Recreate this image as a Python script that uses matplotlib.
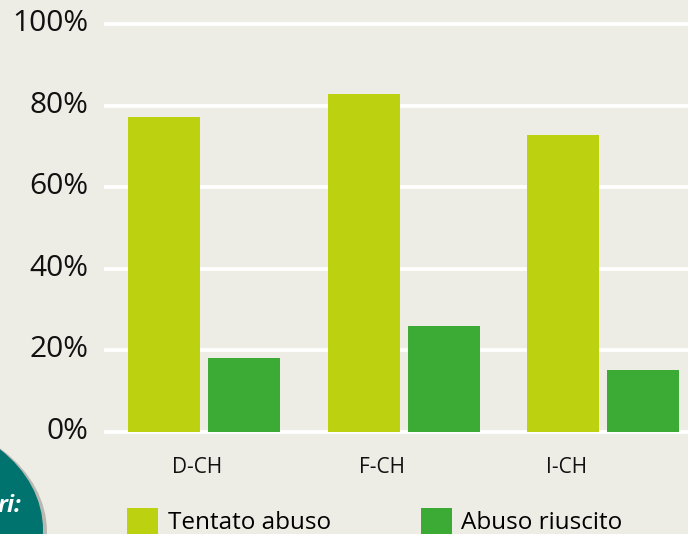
import matplotlib
matplotlib.use("Agg")
import matplotlib.pyplot as plt
import matplotlib.transforms as mtransforms
import numpy as np
from matplotlib.patches import Circle

# data (percent)
regions = ["D-CH", "F-CH", "I-CH"]
tentato = [77.2, 82.8, 72.8]
riuscito = [18.1, 26.0, 15.2]
yticks = [0, 20, 40, 60, 80, 100]

bg = "#edece5"
c_tent = "#bcd10f"
c_riu = "#3bab35"

plt.rcParams['font.family'] = ['Open Sans', 'DejaVu Sans']

fig = plt.figure(figsize=(6.88, 5.34), dpi=100)
fig.patch.set_facecolor(bg)

# axes placed in pixel terms: 0% at y=432, 100% at y=24, left edge x=104
W, H = 688.0, 534.0
pad = 3.0
ppu = 4.08
y0 = 432 + pad * ppu
y1 = 24 - pad * ppu
ax = fig.add_axes([104 / W, (H - y0) / H, 1 - 104 / W, (y0 - y1) / H])
ax.set_facecolor(bg)

x = np.arange(len(regions))
step = 199.5
w = 72 / step
off = 40 / step
ax.bar(x - off, tentato, w, color=c_tent, label="Tentato abuso", zorder=3)
ax.bar(x + off, riuscito, w, color=c_riu, label="Abuso riuscito", zorder=3)

ax.set_ylim(-pad, 100 + pad)
ax.set_xlim(-(204 - 104) / step, (688 - 204) / step)
ax.set_yticks(yticks)
ax.set_yticklabels(["%d%%" % v for v in yticks], fontsize=21.5, color="#111111")
ax.yaxis.grid(True, color="white", linewidth=2.7, zorder=0)
ax.set_axisbelow(True)
ax.tick_params(length=0)
ax.tick_params(axis='y', pad=11)
for s in ax.spines.values():
    s.set_visible(False)

# nudge y labels a little above their gridlines
shift = mtransforms.ScaledTranslation(0, 4 / 100, fig.dpi_scale_trans)
for lab in ax.get_yticklabels():
    lab.set_transform(lab.get_transform() + shift)

# category labels sit a bit left of group centres
lab_px = [197, 382, 567]
ax.set_xticks([(p - 204) / step for p in lab_px])
ax.set_xticklabels(regions, fontsize=15, color="#111111")
ax.tick_params(axis='x', pad=9)

fig.legend(loc='upper left', bbox_to_anchor=(117 / W, (H - 498) / H), ncol=2,
           frameon=False, fontsize=17.5, handlelength=1.28, handleheight=1.28,
           handletextpad=0.4, columnspacing=3.7, borderaxespad=0)

# teal badge from the neighbouring panel, cut off at the corner
shadow = Circle((-100 / W, (H - 532) / H), 147 / W, transform=fig.transFigure,
                facecolor="#b9b8b2", edgecolor="none", zorder=5)
fig.patches.append(shadow)
badge = Circle((-104 / W, (H - 530) / H), 147 / W, transform=fig.transFigure,
               facecolor="#00736e", edgecolor="none", zorder=6)
fig.patches.append(badge)
fig.text(-2 / W, (H - 506) / H, "ri:", color="white", fontsize=17,
         fontweight='bold', fontstyle='italic', va='center', ha='left', zorder=7)

fig.savefig("out.png", dpi=100, facecolor=bg)
